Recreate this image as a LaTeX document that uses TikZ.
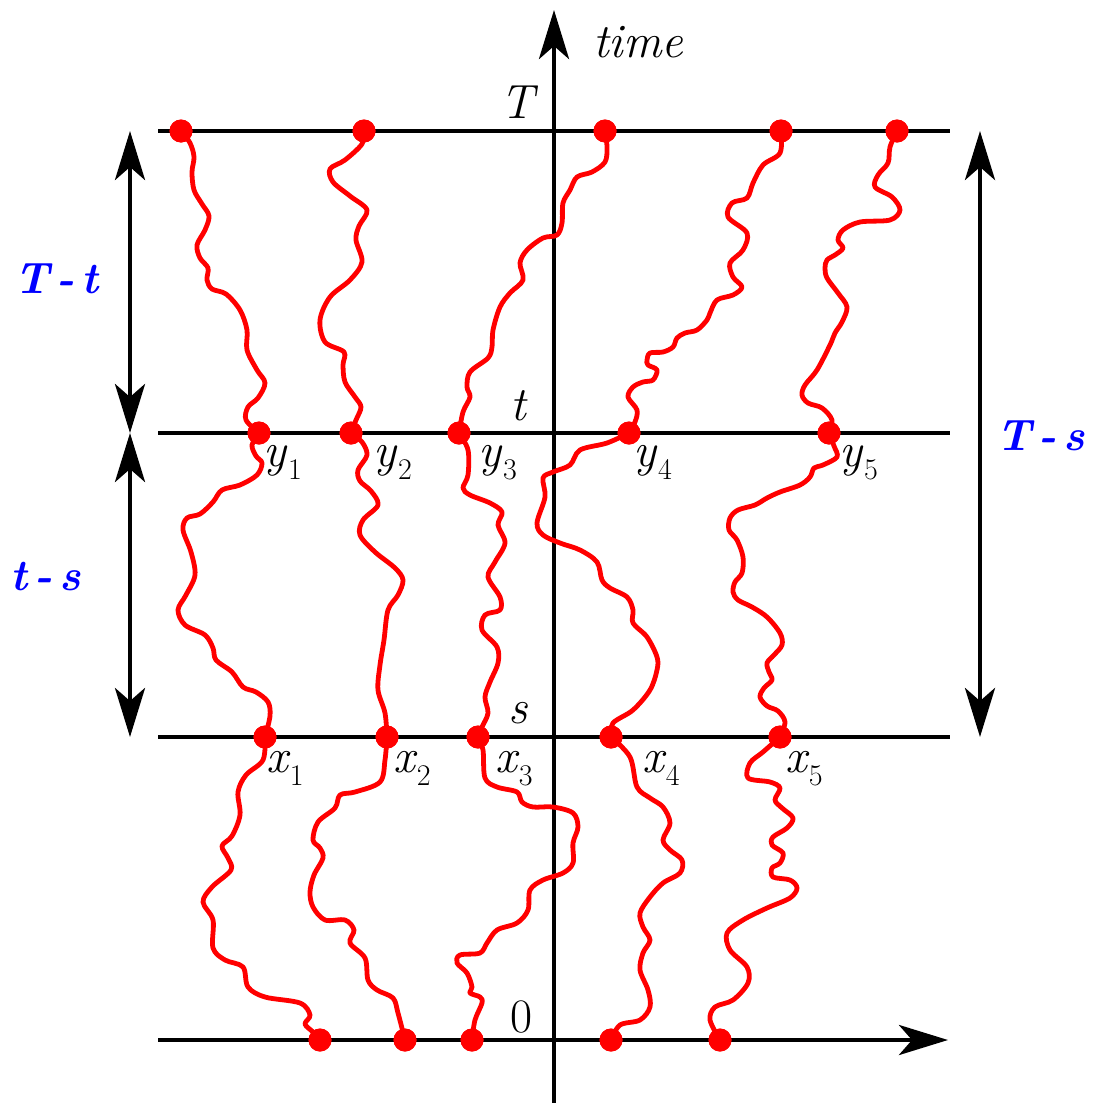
\documentclass[tikz,border=0pt]{standalone}
\usetikzlibrary{arrows.meta}
\newcommand\mysub[1]{\kern2pt\raisebox{-13pt}{\upshape\fontsize{30}{30}\selectfont #1}}
\newcommand\dsh{\kern7pt-\kern7pt}
\begin{document}
\begin{tikzpicture}[x=1pt,y=-1pt,
  >={Stealth[length=49pt,width=30pt,inset=13pt]},
  axis/.style={line width=4.8pt,black},
  walk/.style={line width=4.8pt,red,line join=round,line cap=round},
  dot/.style={circle,fill=red,inner sep=0pt,minimum size=23pt},
  lbl/.style={anchor=base west,inner sep=0pt,font=\fontsize{48}{50}\selectfont\itshape},
  blbl/.style={anchor=base west,inner sep=0pt,text=blue,font=\fontsize{44}{46}\selectfont\bfseries\itshape}]
\useasboundingbox (0,0) rectangle (1093,1103);
% line end points
\coordinate (TL) at (158,131); \coordinate (TR) at (950,131);
\coordinate (tL) at (158,433); \coordinate (tR) at (950,433);
\coordinate (sL) at (158,737); \coordinate (sR) at (950,737);
\coordinate (zL) at (158,1040); \coordinate (zR) at (948,1040);
\coordinate (vB) at (554,1103); \coordinate (vT) at (554,10);
\coordinate (aT) at (130,131); \coordinate (aM) at (130,433); \coordinate (aB) at (130,737);
\coordinate (rT) at (980,131); \coordinate (rB) at (980,737);
\draw[axis] (TL) -- (TR);
\draw[axis] (tL) -- (tR);
\draw[axis] (sL) -- (sR);
\draw[axis,->] (zL) -- (zR);
\draw[axis,->] (vB) -- (vT);
\draw[axis,<->] (aT) -- (aM);
\draw[axis,<->] (aM) -- (aB);
\draw[axis,<->] (rT) -- (rB);
% dots
\node[dot] (a1) at (181,131) {};
\node[dot] (a2) at (364,131) {};
\node[dot] (a3) at (605,131) {};
\node[dot] (a4) at (781,131) {};
\node[dot] (a5) at (897,131) {};
\node[dot] (b1) at (259,433) {};
\node[dot] (b2) at (351,433) {};
\node[dot] (b3) at (459,433) {};
\node[dot] (b4) at (629,433) {};
\node[dot] (b5) at (829,433) {};
\node[dot] (c1) at (265,737) {};
\node[dot] (c2) at (387,737) {};
\node[dot] (c3) at (478,737) {};
\node[dot] (c4) at (611,737) {};
\node[dot] (c5) at (780,737) {};
\node[dot] (d1) at (320,1040) {};
\node[dot] (d2) at (405,1040) {};
\node[dot] (d3) at (472,1040) {};
\node[dot] (d4) at (611,1040) {};
\node[dot] (d5) at (720,1040) {};
% walks
\draw[walk] plot[smooth,tension=0.55] coordinates {(a1.center) (190,143) (194,157) (192,172) (194,190) (202,204) (209,216) (205,230) (197,245) (200,258) (208,268) (207,280) (212,289) (226,294) (240,310) (247,330) (247,350) (257,370) (265,383) (258,398) (248,407) (246,420) (b1.center)};
\draw[walk] plot[smooth,tension=0.55] coordinates {(b1.center) (252,445) (256,456) (262,463) (257,475) (240,485) (222,490) (213,502) (200,514) (187,518) (183,530) (191,552) (195,575) (186,595) (178,610) (185,625) (205,635) (213,648) (216,660) (232,672) (243,687) (256,692) (268,702) (270,716) (c1.center)};
\draw[walk] plot[smooth,tension=0.55] coordinates {(c1.center) (263,760) (246,775) (238,792) (240,815) (232,836) (222,846) (228,858) (231,870) (212,887) (203,902) (213,920) (213,948) (225,960) (243,967) (248,987) (265,997) (300,1003) (310,1015) (305,1024) (313,1032) (d1.center)};
\draw[walk] plot[smooth,tension=0.55] coordinates {(a2.center) (362,144) (345,160) (330,169) (333,182) (350,196) (367,210) (359,226) (356,240) (362,262) (350,280) (330,297) (320,320) (325,342) (344,352) (343,365) (345,382) (355,397) (361,407) (356,420) (b2.center)};
\draw[walk] plot[smooth,tension=0.55] coordinates {(b2.center) (362,442) (367,455) (358,470) (360,481) (371,491) (378,505) (363,520) (360,535) (375,552) (395,568) (403,580) (398,595) (388,610) (384,640) (380,665) (378,690) (385,713) (c2.center)};
\draw[walk] plot[smooth,tension=0.55] coordinates {(c2.center) (385,760) (380,782) (355,792) (340,795) (335,808) (318,822) (313,840) (320,848) (323,858) (314,875) (310,892) (313,907) (325,920) (345,920) (354,930) (350,943) (365,958) (368,980) (377,990) (393,998) (398,1013) (d2.center)};
\draw[walk] plot[smooth,tension=0.55] coordinates {(a3.center) (607,147) (605,162) (592,172) (577,177) (570,190) (563,203) (562,223) (557,235) (543,238) (527,250) (520,263) (523,280) (510,293) (500,307) (493,330) (492,347) (488,358) (470,372) (467,387) (470,397) (463,412) (b3.center)};
\draw[walk] plot[smooth,tension=0.55] coordinates {(b3.center) (468,450) (468,475) (463,488) (470,495) (490,503) (502,512) (498,525) (505,543) (495,562) (488,577) (500,597) (500,610) (485,615) (482,630) (497,647) (498,663) (490,682) (485,697) (488,713) (482,727) (c3.center)};
\draw[walk] plot[smooth,tension=0.55] coordinates {(c3.center) (483,750) (485,778) (497,787) (517,792) (522,802) (533,807) (553,807) (573,813) (578,827) (573,843) (573,863) (563,873) (543,880) (530,890) (528,910) (517,923) (497,930) (487,943) (480,953) (460,955) (457,963) (467,973) (472,987) (470,993) (480,997) (482,1003) (475,1020) (d3.center)};
\draw[walk] plot[smooth,tension=0.55] coordinates {(a4.center) (780,153) (763,165) (753,183) (747,198) (732,203) (728,217) (747,233) (743,250) (730,263) (733,277) (742,287) (733,295) (717,300) (710,313) (707,320) (697,330) (685,333) (677,338) (673,347) (663,352) (650,353) (647,360) (648,365) (657,370) (653,380) (643,382) (633,387) (628,397) (637,410) (635,422) (b4.center)};
\draw[walk] plot[smooth,tension=0.55] coordinates {(b4.center) (607,443) (580,450) (570,465) (553,472) (543,478) (545,497) (537,523) (543,535) (560,543) (580,550) (597,562) (602,580) (610,588) (627,597) (633,610) (633,623) (647,637) (657,657) (657,670) (650,690) (633,710) (613,723) (c4.center)};
\draw[walk] plot[smooth,tension=0.55] coordinates {(c4.center) (630,757) (637,787) (650,798) (663,807) (670,823) (663,840) (670,850) (682,860) (680,873) (663,883) (650,897) (640,913) (643,927) (650,940) (643,953) (640,970) (648,990) (650,1007) (640,1020) (620,1025) (d4.center)};
\draw[walk] plot[smooth,tension=0.55] coordinates {(a5.center) (890,147) (888,163) (878,175) (875,187) (892,197) (900,210) (890,220) (860,222) (843,230) (838,240) (843,248) (835,255) (827,260) (825,268) (827,278) (838,293) (847,307) (842,322) (835,333) (830,345) (817,370) (805,385) (802,395) (808,403) (822,408) (832,420) (b5.center)};
\draw[walk] plot[smooth,tension=0.55] coordinates {(b5.center) (834,446) (837,457) (823,465) (814,468) (810,477) (800,485) (780,492) (767,498) (755,505) (738,510) (730,518) (729,530) (737,540) (743,557) (742,573) (735,582) (733,592) (738,600) (752,607) (767,617) (780,633) (782,645) (774,655) (767,663) (769,672) (772,680) (764,688) (760,697) (767,706) (778,711) (785,722) (c5.center)};
\draw[walk] plot[smooth,tension=0.55] coordinates {(c5.center) (763,752) (750,763) (748,778) (770,782) (780,788) (775,800) (782,808) (793,818) (787,828) (773,837) (772,845) (783,853) (780,863) (772,868) (773,877) (790,880) (797,888) (790,898) (767,908) (743,920) (727,933) (730,950) (747,967) (748,983) (733,1000) (715,1007) (710,1020) (d5.center)};
% redraw dots on top
\foreach \n in {a1,a2,a3,a4,a5,b1,b2,b3,b4,b5,c1,c2,c3,c4,c5,d1,d2,d3,d4,d5}
  \fill[red] (\n.center) circle[radius=11.5pt];
% axis labels
\node[lbl] (ltime) at (593,57) {time};
\node[lbl] (lT) at (500,118) {T};
\node[lbl] (lt) at (510,420) {t};
\node[lbl] (ls) at (508,723) {s};
\node[lbl,font=\fontsize{48}{50}\selectfont\upshape] (l0) at (510,1032) {0};
% point labels
\node[lbl] (ly1) at (263,466) {y\mysub{1}};
\node[lbl] (ly2) at (373,466) {y\mysub{2}};
\node[lbl] (ly3) at (478,466) {y\mysub{3}};
\node[lbl] (ly4) at (633,466) {y\mysub{4}};
\node[lbl] (ly5) at (839,466) {y\mysub{5}};
\node[lbl] (lx1) at (266,772) {x\mysub{1}};
\node[lbl] (lx2) at (393,772) {x\mysub{2}};
\node[lbl] (lx3) at (495,772) {x\mysub{3}};
\node[lbl] (lx4) at (642,772) {x\mysub{4}};
\node[lbl] (lx5) at (785,772) {x\mysub{5}};
% interval labels
\node[blbl] (lTt) at (14,293) {T\dsh t};
\node[blbl] (lts) at (10,590) {t\dsh s};
\node[blbl] (lTs) at (996,450) {T\dsh s};
\end{tikzpicture}
\end{document}
